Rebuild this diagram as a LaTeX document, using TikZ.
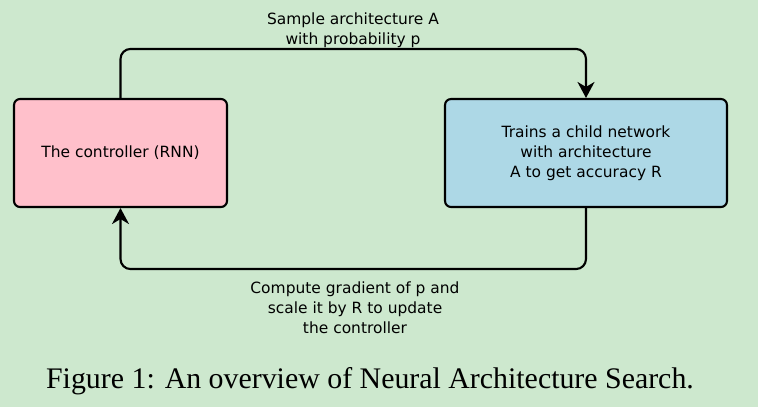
\documentclass[tikz,border=0pt]{standalone}
\usepackage{fontspec}
\setmainfont{Liberation Serif}
\newfontfamily\dejavu{DejaVu Sans}
\usetikzlibrary{arrows.meta}
\definecolor{bggreen}{RGB}{205,232,206}
\definecolor{ctrlpink}{RGB}{255,192,203}
\definecolor{childblue}{RGB}{173,216,230}

\begin{document}
\begin{tikzpicture}[x=0.02cm, y=-0.02cm,
    box/.style={draw, line width=1.2pt, rounded corners=0.12cm, minimum height=2.16cm,
        align=center, font=\dejavu\fontsize{8.8}{11.4}\selectfont},
    flow/.style={line width=1.2pt, rounded corners=0.2cm},
    tip/.style={-{Stealth[length=0.32cm, width=0.34cm, inset=0.1cm]}},
    lbl/.style={align=center, font=\dejavu\fontsize{8.8}{11.4}\selectfont}]
    % Background
    \fill[bggreen] (0,0) rectangle (758,407);

    % Boxes
    \node[box, fill=ctrlpink, minimum width=4.26cm] (ctrl) at (120.5,153) {The controller (RNN)};
    \node[box, fill=childblue, minimum width=5.64cm] (child) at (586,153)
        {Trains a child network\\with architecture\\A to get accuracy R};

    % Loop
    \draw[flow, tip] (ctrl.north) -- ++(0,-49) -| (child.north);
    \draw[flow, tip] (child.south) -- ++(0,61) -| (ctrl.south);

    % Labels
    \node[lbl] (sample) at (353,30) {Sample architecture A\\with probability p};
    \node[lbl] (update) at (355,308) {Compute gradient of p and\\scale it by R to update\\the controller};

    % Caption
    \node[font=\fontsize{17}{20}\selectfont] (caption) at (370,381)
        {Figure 1: An overview of Neural Architecture Search.};
\end{tikzpicture}
\end{document}
